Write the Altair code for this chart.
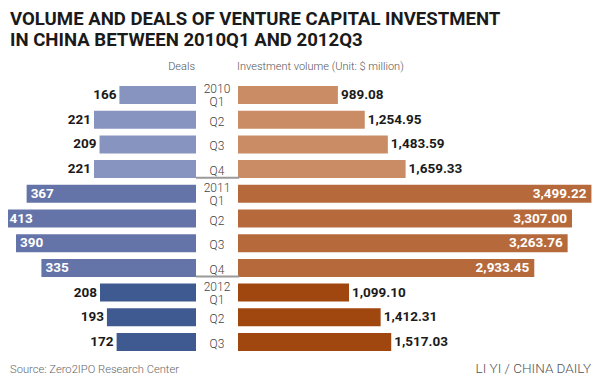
import altair as alt
import pandas as pd

# ---- data ----
years = ["2010", "2010", "2010", "2010", "2011", "2011", "2011", "2011", "2012", "2012", "2012"]
quarters = ["Q1", "Q2", "Q3", "Q4", "Q1", "Q2", "Q3", "Q4", "Q1", "Q2", "Q3"]
deals = [166, 221, 209, 221, 367, 413, 390, 335, 208, 193, 172]
volume = [989.08, 1254.95, 1483.59, 1659.33, 3499.22, 3307.00, 3263.76, 2933.45, 1099.10, 1412.31, 1517.03]

title_text = "VOLUME AND DEALS OF VENTURE CAPITAL INVESTMENT\nIN CHINA BETWEEN 2010Q1 AND 2012Q3"
left_header = "Deals"
right_header = "Investment volume (Unit: $ million)"
source_text = "Source: Zero2IPO Research Center"
credit_text = "LI YI / CHINA DAILY"

year_domain = ["2010", "2011", "2012"]
left_colors = ["#8794BF", "#6474A8", "#3F5A91"]
right_colors = ["#C98C64", "#B66A3C", "#A0460F"]

df = pd.DataFrame({
    "year": years,
    "quarter": quarters,
    "deals": deals,
    "volume": volume,
    "row": list(range(len(years))),
})
df["center"] = [f"{y}\n{q}" if q == "Q1" else q for y, q in zip(years, quarters)]

sep_df = pd.DataFrame({"row": [3, 7]})

FONT = "Roboto"

left_x = alt.Scale(domain=[0, 400], range=[188, 3.4], nice=False)
right_x = alt.Scale(domain=[0, 3500], range=[230, 583.5], nice=False)
y_s = alt.Scale(domain=[0, 10], range=[87, 334], nice=False, zero=False)

base = alt.Chart(df).transform_calculate(
    y0="datum.row - 0.365", y1="datum.row + 0.365", zero="0"
)

left_bars = base.mark_rect().encode(
    x=alt.X("deals:Q", scale=left_x, axis=None),
    x2="zero:Q",
    y=alt.Y("y0:Q", scale=y_s, axis=None),
    y2="y1:Q",
    color=alt.Color("year:N", scale=alt.Scale(domain=year_domain, range=left_colors), legend=None),
)

right_bars = base.mark_rect().encode(
    x=alt.X("volume:Q", scale=right_x, axis=None),
    x2="zero:Q",
    y=alt.Y("y0:Q", scale=y_s, axis=None),
    y2="y1:Q",
    color=alt.Color("year:N", scale=alt.Scale(domain=year_domain, range=right_colors), legend=None),
)

lbl = dict(font=FONT, fontSize=13.5, fontWeight="bold", baseline="middle")

left_out = base.transform_filter("datum.year != '2011'").mark_text(
    align="right", dx=-3, color="#1a1a1a", **lbl
).encode(
    x=alt.X("deals:Q", scale=left_x, axis=None),
    y=alt.Y("row:Q", scale=y_s, axis=None),
    text=alt.Text("deals:Q", format="d"),
)

left_in = base.transform_filter("datum.year == '2011'").mark_text(
    align="left", dx=4, color="white", **lbl
).encode(
    x=alt.X("deals:Q", scale=left_x, axis=None),
    y=alt.Y("row:Q", scale=y_s, axis=None),
    text=alt.Text("deals:Q", format="d"),
)

right_out = base.transform_filter("datum.year != '2011'").mark_text(
    align="left", dx=3, color="#1a1a1a", **lbl
).encode(
    x=alt.X("volume:Q", scale=right_x, axis=None),
    y=alt.Y("row:Q", scale=y_s, axis=None),
    text=alt.Text("volume:Q", format=",.2f"),
)

right_in = base.transform_filter("datum.year == '2011'").mark_text(
    align="right", dx=-5, color="white", **lbl
).encode(
    x=alt.X("volume:Q", scale=right_x, axis=None),
    y=alt.Y("row:Q", scale=y_s, axis=None),
    text=alt.Text("volume:Q", format=",.2f"),
)

ctr = dict(align="center", baseline="middle", lineBreak="\n", lineHeight=13,
           font=FONT, fontSize=12, fontWeight=300, color="#444444")

center_two = base.transform_filter("datum.quarter == 'Q1'").mark_text(dy=-6, **ctr).encode(
    x=alt.value(209),
    y=alt.Y("row:Q", scale=y_s, axis=None),
    text="center:N",
)

center_one = base.transform_filter("datum.quarter != 'Q1'").mark_text(dy=2, **ctr).encode(
    x=alt.value(209),
    y=alt.Y("row:Q", scale=y_s, axis=None),
    text="center:N",
)

seps = alt.Chart(sep_df).transform_calculate(sy="datum.row + 0.35").mark_rule(
    color="#9a9a9a", strokeWidth=2
).encode(
    x=alt.value(188),
    x2=alt.value(231),
    y=alt.Y("sy:Q", scale=y_s, axis=None),
)

def note(text, x, y, align, size, weight, color, line_height=None):
    kw = dict(align=align, baseline="alphabetic", font=FONT, fontSize=size,
              fontWeight=weight, color=color, lineBreak="\n")
    if line_height is not None:
        kw["lineHeight"] = line_height
    return alt.Chart(pd.DataFrame({"t": [text]})).mark_text(**kw).encode(
        x=alt.value(x), y=alt.value(y), text="t:N"
    )

title = note(title_text, 2, 16.5, "left", 18.6, "bold", "#1a1a1a", line_height=21)
h_left = note(left_header, 187, 62, "right", 11, 300, "#555555")
h_right = note(right_header, 229, 62, "left", 11, 300, "#555555")
src = note(source_text, 2, 365, "left", 11.2, 300, "#666666")
credit = note(credit_text, 583, 365, "right", 13.5, 300, "#555555")

chart = alt.layer(
    left_bars, right_bars, seps, left_out, left_in, right_out, right_in,
    center_two, center_one,
    title, h_left, h_right, src, credit,
).resolve_scale(
    x="independent", color="independent"
).properties(
    width=584, height=368,
    autosize=alt.AutoSizeParams(type="none"),
    padding=0,
    background="white",
).configure_view(stroke=None)

chart.save("out.html", embed_options={"renderer": "svg", "actions": False})
